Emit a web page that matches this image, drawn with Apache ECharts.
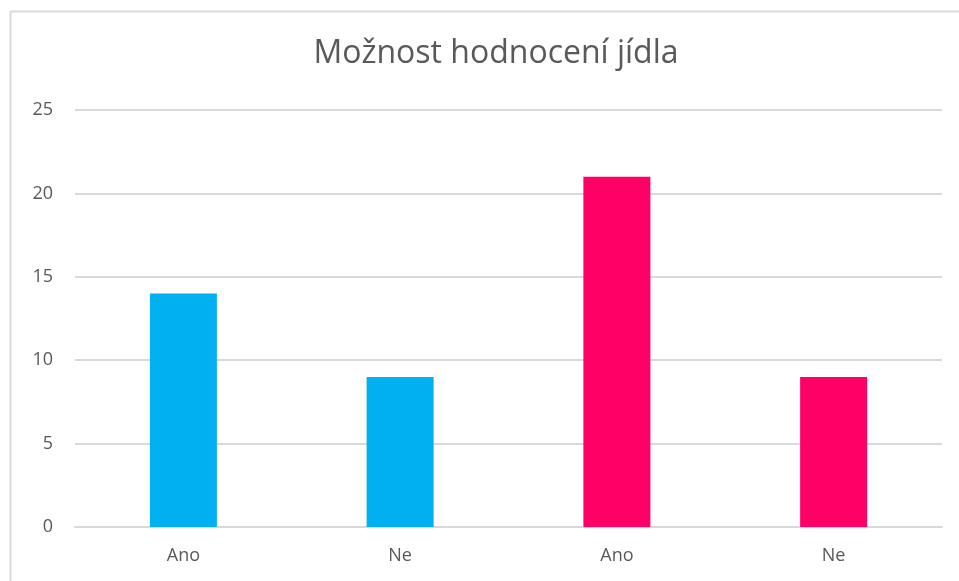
<!DOCTYPE html>
<html>
<head>
<meta charset="utf-8">
<script src="https://cdn.jsdelivr.net/npm/echarts@6/dist/echarts.min.js"></script>
<style>
  html, body { margin: 0; padding: 0; background: #fff; }
  #chart { width: 959px; height: 581px; }
</style>
</head>
<body>
<div id="chart"></div>
<script>
var titleText = 'Možnost hodnocení jídla';
var categories = ['Ano', 'Ne', 'Ano', 'Ne'];
var values = [14, 9, 21, 9];
var barColors = ['#00B0F0', '#00B0F0', '#FF0066', '#FF0066'];

var chart = echarts.init(document.getElementById('chart'));
var option = {
  animation: false,
  graphic: [{
    type: 'rect',
    shape: { x: 10.5, y: 11.5, width: 980, height: 600 },
    style: { fill: 'none', stroke: '#d9d9d9', lineWidth: 2 },
    silent: true
  }],
  title: {
    text: titleText,
    left: 491,
    top: 33,
    textAlign: 'center',
    textStyle: { fontFamily: 'Open Sans', fontSize: 32, fontWeight: 'normal', color: '#595959' }
  },
  grid: { left: 75, right: 17, top: 110, bottom: 54, containLabel: false },
  xAxis: {
    type: 'category',
    data: categories,
    axisLine: { lineStyle: { color: '#d9d9d9', width: 2 } },
    axisTick: { show: false },
    axisLabel: { color: '#595959', fontFamily: 'Open Sans', fontSize: 18, margin: 20 }
  },
  yAxis: {
    type: 'value',
    min: 0,
    max: 25,
    interval: 5,
    axisLine: { show: false },
    axisTick: { show: false },
    axisLabel: { color: '#595959', fontFamily: 'Open Sans', fontSize: 18, margin: 22 },
    splitLine: { lineStyle: { color: '#d9d9d9', width: 2 } }
  },
  series: [{
    type: 'bar',
    barWidth: 67,
    data: values.map(function (v, i) {
      return { value: v, itemStyle: { color: barColors[i] } };
    })
  }]
};
chart.setOption(option);
</script>
</body>
</html>
